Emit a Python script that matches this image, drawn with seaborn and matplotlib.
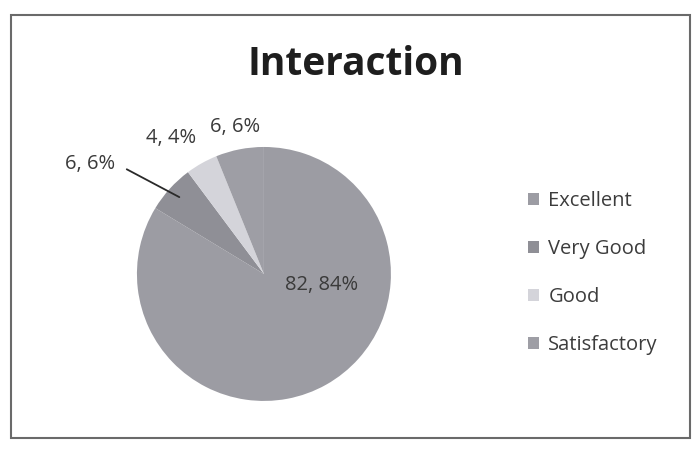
import numpy as np
import matplotlib.pyplot as plt
import seaborn as sns
from matplotlib.patches import Rectangle

# ============================================================
# Data
# ============================================================
categories = ["Excellent", "Very Good", "Good", "Satisfactory"]
counts = [82, 6, 4, 6]
percents = [84, 6, 4, 6]
colors = ["#9c9ca3", "#8f8f96", "#d4d4da", "#9e9ea5"]

# label placement (radius factor, angle nudge in degrees) per slice
label_r = [0.465, 1.62, 1.30, 1.18]
label_nudge = [50, 10, 5, 0]

sns.set_style("white")
plt.rcParams["font.family"] = ["Open Sans", "DejaVu Sans"]

fig = plt.figure(figsize=(6.95, 4.5), dpi=100)
fig.patch.set_facecolor("white")

# chart frame
fig.add_artist(Rectangle((11 / 695, 12 / 450), 679 / 695, 423 / 450,
                         transform=fig.transFigure, fill=False,
                         edgecolor="#6a6a6a", linewidth=1.5))

ax = fig.add_axes([0.197, 0.109, 0.3655, 0.5644])
wedges, _ = ax.pie(counts, colors=colors, startangle=90, counterclock=False,
                   radius=1.0, wedgeprops={"linewidth": 0})
ax.set_xlim(-1, 1)
ax.set_ylim(-1, 1)
ax.set_aspect("equal")
ax.axis("off")

for i, w in enumerate(wedges):
    mid = np.deg2rad((w.theta1 + w.theta2) / 2 + label_nudge[i])
    x, y = label_r[i] * np.cos(mid), label_r[i] * np.sin(mid)
    txt = f"{counts[i]}, {percents[i]}%"
    ax.text(x, y, txt, ha="center", va="center", fontsize=14.5,
            color="#3a3a3a", clip_on=False)
    if i == 1:
        # leader line for the "Very Good" slice
        mid0 = np.deg2rad((w.theta1 + w.theta2) / 2)
        ax.plot([0.9 * np.cos(mid0), x + 0.29], [0.9 * np.sin(mid0), y - 0.04],
                color="#2a2a2a", lw=1.3, clip_on=False)

fig.text(0.512, 0.857, "Interaction", ha="center", va="center",
         fontsize=28, fontweight="bold", color="#1e1e1e")

fig.legend(wedges, categories, loc="center left", bbox_to_anchor=(0.734, 0.393),
           frameon=False, fontsize=14.5, labelspacing=1.38, handlelength=0.55,
           handleheight=0.55, handletextpad=0.45, labelcolor="#3c3c3c")

plt.savefig("out.png", dpi=100)
plt.close()
